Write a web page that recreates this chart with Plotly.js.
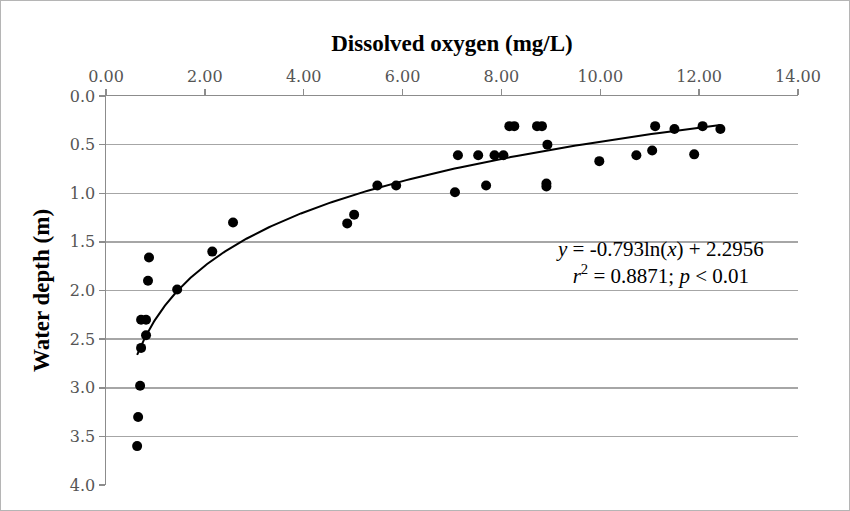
<!DOCTYPE html>
<html>
<head>
<meta charset="utf-8">
<script src="https://cdn.plot.ly/plotly-3.0.1.min.js"></script>
<style>
  html, body { margin: 0; padding: 0; background: #fff; }
  #wrap { position: relative; width: 850px; height: 511px; }
  #chart { position: absolute; left: 0; top: 0; width: 850px; height: 511px; }
  #frame { position: absolute; left: 0; top: 0; width: 850px; height: 511px; box-sizing: border-box; border: 1px solid #b5b5b5; pointer-events: none; }
</style>
</head>
<body>
<div id="wrap">
  <div id="chart"></div>
  <div id="frame"></div>
</div>
<script>
// Dissolved oxygen (mg/L) and water depth (m) samples
const oxygen = [2.57, 2.15, 0.87, 0.85, 1.44, 0.71, 0.81, 0.81, 0.71, 0.69, 0.65, 0.63,
                4.88, 5.02, 5.49, 5.87, 7.06, 7.12, 7.53, 7.69, 7.86, 8.04, 8.16, 8.26,
                8.72, 8.82, 8.93, 8.91, 8.91,
                9.98, 10.73, 11.05, 11.11, 11.50, 11.90, 12.07, 12.43];
const depth  = [1.30, 1.60, 1.66, 1.90, 1.99, 2.30, 2.30, 2.46, 2.59, 2.98, 3.30, 3.60,
                1.31, 1.22, 0.92, 0.92, 0.99, 0.61, 0.61, 0.92, 0.61, 0.61, 0.31, 0.31,
                0.31, 0.31, 0.50, 0.90, 0.93,
                0.67, 0.61, 0.56, 0.31, 0.34, 0.60, 0.31, 0.34];

// Logarithmic trend line as printed on the chart: y = a ln(x) + b
const trendA = -0.793;
const trendB = 2.2956;
const trendXMin = 0.63;
const trendXMax = 12.43;

const xTickVals = [0, 2, 4, 6, 8, 10, 12, 14];
const yTickVals = [0, 0.5, 1, 1.5, 2, 2.5, 3, 3.5, 4];

const trendX = [], trendY = [];
const nSteps = 200;
for (let i = 0; i <= nSteps; i++) {
  const x = trendXMin * Math.pow(trendXMax / trendXMin, i / nSteps);
  trendX.push(x);
  trendY.push(trendA * Math.log(x) + trendB);
}

const serif = '"Liberation Serif", "Times New Roman", serif';
const tickSerif = '"DejaVu Serif", serif';

const traces = [
  {
    x: trendX, y: trendY, mode: 'lines', type: 'scatter',
    line: { color: '#000', width: 2 }, hoverinfo: 'skip', showlegend: false
  },
  {
    x: oxygen, y: depth, mode: 'markers', type: 'scatter',
    marker: { color: '#000', size: 10 }, showlegend: false
  }
];

const layout = {
  width: 850, height: 511,
  margin: { l: 106, r: 52, t: 96, b: 26 },
  paper_bgcolor: '#fff', plot_bgcolor: '#fff',
  showlegend: false,
  xaxis: {
    side: 'top', range: [0, 14], tickvals: xTickVals, tickformat: '.2f',
    showgrid: false, zeroline: false, showline: true, linecolor: '#8c8c8c', linewidth: 1.5,
    ticks: 'outside', ticklen: 6, tickcolor: '#8c8c8c', tickwidth: 1.5,
    tickfont: { family: tickSerif, size: 16, color: '#555' },
    title: { text: '<b>Dissolved oxygen (mg/L)</b>', font: { family: serif, size: 23, color: '#000' }, standoff: 9 }
  },
  yaxis: {
    range: [4, 0], tickvals: yTickVals, tickformat: '.1f',
    showgrid: true, gridcolor: '#a6a6a6', gridwidth: 1.5,
    zeroline: false, showline: true, linecolor: '#8c8c8c', linewidth: 1.5,
    ticks: 'outside', ticklen: 6, tickcolor: '#8c8c8c', tickwidth: 1.5,
    tickfont: { family: tickSerif, size: 16, color: '#555' },
    title: { text: '<b>Water depth (m)</b>', font: { family: serif, size: 23, color: '#000' }, standoff: 14 }
  },
  annotations: [
    {
      xref: 'x', yref: 'y', x: 11.2, y: 1.71, showarrow: false,
      align: 'center', xanchor: 'center', yanchor: 'middle',
      text: '<i>y</i> = -0.793ln(<i>x</i>) + 2.2956<br><i>r</i><sup>2</sup> = 0.8871; <i>p</i> < 0.01',
      font: { family: serif, size: 21, color: '#000' }
    }
  ]
};

Plotly.newPlot('chart', traces, layout, { displayModeBar: false, staticPlot: true });
</script>
</body>
</html>
